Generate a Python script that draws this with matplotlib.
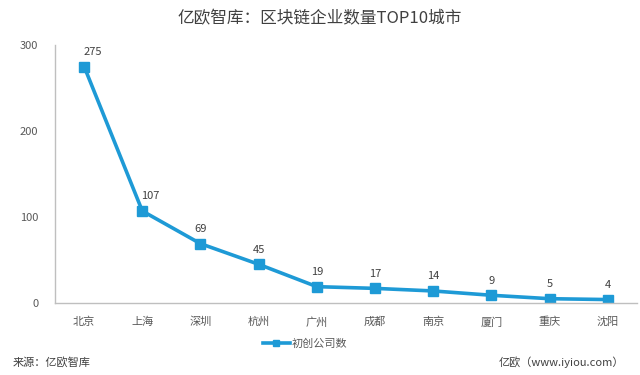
import matplotlib
matplotlib.use("Agg")
import matplotlib.pyplot as plt
import numpy as np

plt.rcParams['font.family'] = ['Noto Sans CJK SC', 'DejaVu Sans']

cities = ["北京", "上海", "深圳", "杭州", "广州", "成都", "南京", "厦门", "重庆", "沈阳"]
counts = [275, 107, 69, 45, 19, 17, 14, 9, 5, 4]
series_name = "初创公司数"

color = "#1e9ad6"
grey = "#595959"

fig = plt.figure(figsize=(6.4, 3.75), dpi=100)
ax = fig.add_axes([0.086, 0.192, 0.909, 0.688])

x = np.arange(len(cities))
ax.plot(x, counts, color=color, linewidth=2.6, marker="s", markersize=7.5, label=series_name)
for xi, v in zip(x, counts):
    # steep drop after the first points pushes Excel's labels a little to the right
    dx = 6 if v > 100 else 0
    ax.annotate(str(v), (xi, v), xytext=(dx, 7), textcoords="offset points",
                ha="center", va="bottom", fontsize=8, color="#404040")

ax.set_xlim(-0.5, len(cities) - 0.5)
ax.set_ylim(0, 300)
ax.set_yticks([0, 100, 200, 300])
ax.set_xticks(x)
ax.set_xticklabels(cities)
ax.tick_params(axis="both", length=0, labelsize=8, colors=grey)
ax.tick_params(axis="x", pad=10)
ax.tick_params(axis="y", pad=12)
for s in ["top", "right"]:
    ax.spines[s].set_visible(False)
for s in ["left", "bottom"]:
    ax.spines[s].set_color("#bfbfbf")
    ax.spines[s].set_linewidth(1)

ax.legend(loc="upper center", bbox_to_anchor=(0.43, -0.1), frameon=False,
          fontsize=8, handlelength=2.4, handletextpad=0.2, labelcolor=grey,
          markerscale=0.6)

fig.text(0.5, 0.95, "亿欧智库：区块链企业数量TOP10城市", ha="center", va="center",
         fontsize=12, color="#404040")
fig.text(0.02, 0.035, "来源：亿欧智库", ha="left", va="center", fontsize=8, color="#404040")
fig.text(0.975, 0.035, "亿欧（www.iyiou.com）", ha="right", va="center", fontsize=8, color="#404040")

fig.savefig("out.png", dpi=100)
